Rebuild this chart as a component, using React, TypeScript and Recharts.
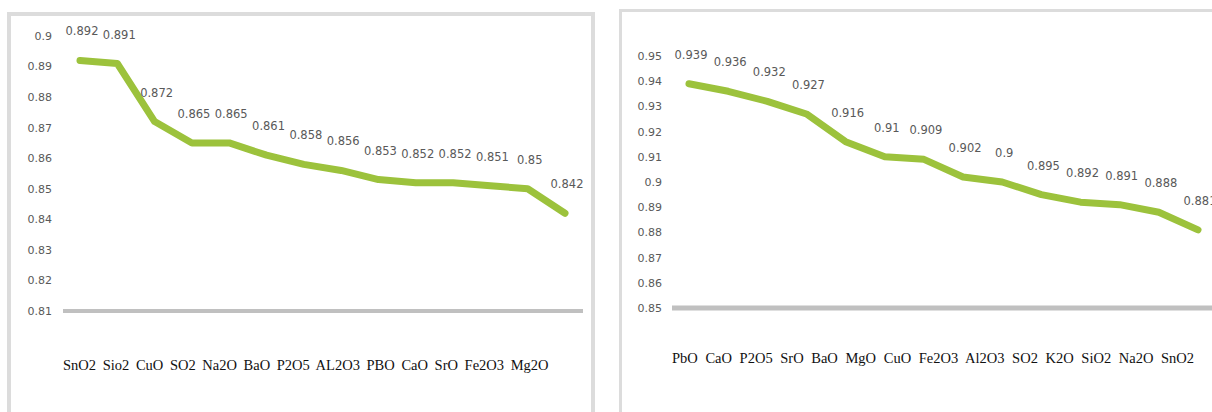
import React from 'react';
import { LineChart, Line, XAxis, YAxis, LabelList } from 'recharts';

const leftCategories = ['SnO2', 'Sio2', 'CuO', 'SO2', 'Na2O', 'BaO', 'P2O5', 'AL2O3', 'PBO', 'CaO', 'SrO', 'Fe2O3', 'Mg2O'];
const leftValues = [0.892, 0.891, 0.872, 0.865, 0.865, 0.861, 0.858, 0.856, 0.853, 0.852, 0.852, 0.851, 0.85, 0.842];
const leftLabelCats = ['SnO2', 'Sio2', 'CuO', 'SO2', 'Na2O', 'BaO', 'P2O5', 'AL2O3', 'PBO', 'CaO', 'SrO', 'Fe2O3', 'Mg2O', ''];
const leftTicks = [0.81, 0.82, 0.83, 0.84, 0.85, 0.86, 0.87, 0.88, 0.89, 0.9];

const rightCategories = ['PbO', 'CaO', 'P2O5', 'SrO', 'BaO', 'MgO', 'CuO', 'Fe2O3', 'Al2O3', 'SO2', 'K2O', 'SiO2', 'Na2O', 'SnO2'];
const rightValues = [0.939, 0.936, 0.932, 0.927, 0.916, 0.91, 0.909, 0.902, 0.9, 0.895, 0.892, 0.891, 0.888, 0.881];
const rightTicks = [0.85, 0.86, 0.87, 0.88, 0.89, 0.9, 0.91, 0.92, 0.93, 0.94, 0.95];

const leftData = leftValues.map((v, i) => ({ name: leftLabelCats[i] || 'p' + i, value: v }));
const rightData = rightCategories.map((c, i) => ({ name: c, value: rightValues[i] }));

const GREEN = '#9cc23c';
const TEXT = '#595959';

const fmt = (v: number) => String(+v.toFixed(2));

const DataLabel = (props: any) => {
  const { x, y, value } = props;
  return (
    <text x={x + 2} y={y - 25} textAnchor="middle" fontFamily="DejaVu Sans" fontSize={11.5} fill={TEXT}>
      {String(value)}
    </text>
  );
};

const CategoryLine = (props: any) => {
  const { viewBox, cats, dy, ws } = props;
  return (
    <text x={viewBox.x} y={viewBox.y + dy} fontFamily="Liberation Serif" fontSize={14.5} fill="#111" style={{ wordSpacing: ws }}>
      {cats.join(' ')}
    </text>
  );
};

export default function App() {
  return (
    <div style={{ position: 'absolute', left: 0, top: 0, width: 1212, height: 412, overflow: 'hidden', background: '#fff' }}>
      <div style={{ position: 'absolute', left: 7, top: 12, width: 580, height: 500, border: '4px solid #dcdcdc' }} />
      <div style={{ position: 'absolute', left: 619, top: 9, width: 700, height: 500, border: '3px solid #dcdcdc' }} />
      <div style={{ position: 'absolute', left: 0, top: 0 }}>
        <LineChart width={600} height={412} data={leftData} margin={{ top: 36, right: 17, bottom: 41, left: 0 }}>
          <XAxis
            dataKey="name"
            tick={false}
            tickLine={false}
            height={60}
            stroke="#c0c0c0"
            strokeWidth={4}
            padding={{ left: 17, right: 18 }}
            label={<CategoryLine cats={leftCategories} dy={59} ws={3} />}
          />
          <YAxis
            domain={[0.81, 0.9]}
            ticks={leftTicks}
            tickFormatter={fmt}
            axisLine={false}
            tickLine={false}
            tickSize={0}
            tickMargin={11}
            width={63}
            interval={0}
            tick={{ fontFamily: 'DejaVu Sans', fontSize: 11, fill: TEXT }}
          />
          <Line
            type="linear"
            dataKey="value"
            stroke={GREEN}
            strokeWidth={7}
            strokeLinecap="round"
            strokeLinejoin="round"
            dot={false}
            isAnimationActive={false}
          >
            <LabelList dataKey="value" content={DataLabel} />
          </Line>
        </LineChart>
      </div>
      <div style={{ position: 'absolute', left: 612, top: 0 }}>
        <LineChart width={600} height={412} data={rightData} margin={{ top: 56, right: 0, bottom: 44, left: 0 }}>
          <XAxis
            dataKey="name"
            tick={false}
            tickLine={false}
            height={60}
            stroke="#c0c0c0"
            strokeWidth={5}
            padding={{ left: 17, right: 14 }}
            label={<CategoryLine cats={rightCategories} dy={55} ws={4} />}
          />
          <YAxis
            domain={[0.85, 0.95]}
            ticks={rightTicks}
            tickFormatter={fmt}
            axisLine={false}
            tickLine={false}
            tickSize={0}
            tickMargin={10}
            width={60}
            interval={0}
            tick={{ fontFamily: 'DejaVu Sans', fontSize: 11, fill: TEXT }}
          />
          <Line
            type="linear"
            dataKey="value"
            stroke={GREEN}
            strokeWidth={7}
            strokeLinecap="round"
            strokeLinejoin="round"
            dot={false}
            isAnimationActive={false}
          >
            <LabelList dataKey="value" content={DataLabel} />
          </Line>
        </LineChart>
      </div>
    </div>
  );
}
